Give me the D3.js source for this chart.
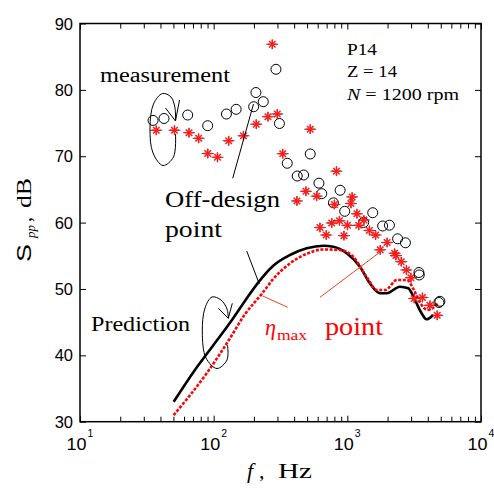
<!DOCTYPE html>
<html><head><meta charset="utf-8">
<script src="https://cdn.jsdelivr.net/npm/d3@7"></script>
<style>body{margin:0;background:#fff}svg{display:block}</style>
</head><body>
<svg id="c" width="494" height="490"></svg>
<script>
// measured data (circles) : frequency Hz, S_pp dB
const circF = [35.2,42.5,63.9,90.2,124.6,147.3,199.1,207.1,235,292.4,310.5,527.8,355.3,421.8,471,613.2,643.4,883.3,787,956.3,1324,1549,1837,2065,2377,2721,3433,3451,4927,4842];
const circS = [75.4,75.69,76.21,74.6,76.36,77.07,77.46,79.6,78.22,83.1,74.93,70.34,68.94,67.02,67.17,65.94,64.36,64.87,62.98,61.7,60.02,61.49,59.49,59.61,57.56,56.96,52.48,52.11,48.14,47.96];
// measured data (stars)
const starF = [37.2,50.9,65.4,77.2,90.3,106.8,129.5,167.1,208.3,254.7,299.1,274.4,527.8,328.7,829,490,589.4,419.8,800.8,1086,1064,1180,1331,764.4,872.9,1002,1217,623.9,695.4,943.2,1463,1628,1985,1762,2258,2309,2531,2767,2991,3165,3646,4147,4704];
const starS = [73.91,73.92,73.55,72.7,70.41,69.84,72.33,73.08,74.83,75.96,76.36,86.87,74.07,70.38,67.75,64.72,63.98,63.26,62.73,63.86,62.88,61.33,60.39,59.94,60.27,59.59,59.59,59.26,58.13,58.03,58.81,58.13,57.0,55.9,55.38,55.04,54.11,52.86,51.7,48.57,48.72,47.54,46.03];
// prediction, off-design (black solid)
const predBlackF = [50.2,72.4,100,140,171.4,216,279,372,497,661,785,989,1243,1475,1753,1967,2473,2855,3206,3596,3911,4385];
const predBlackS = [33.0,37.8,41.6,45.6,48.2,51.0,53.5,55.12,56.13,56.52,56.37,55.38,53.36,50.86,49.35,49.35,50.34,50.1,48.34,46.33,45.43,46.08];
// prediction, eta max (red dotted)
const predRedF = [50.2,88.7,130,171.4,228,279,372,497,661,880,1106,1391,1666,1922,2355,2800,3144,3529,3967,4328,4741];
const predRedS = [31.0,37.3,42.3,46.2,49.2,51.5,53.85,55.3,55.95,55.87,54.86,51.85,49.85,49.85,51.35,51.35,49.85,47.84,46.83,47.09,47.8];
const yTicks = [30,40,50,60,70,80,90];
const xDecades = [1,2,3,4];

const svg = d3.select("#c");
const L=80,R=481,T=23.5,B=421.7;
const x = d3.scaleLog().domain([10,1e4]).range([L,R]);
const y = d3.scaleLinear().domain([30,90]).range([B,T]);

// minor ticks
const minor=[];
for(let k=1;k<=3;k++) for(let m=2;m<=9;m++) minor.push(m*Math.pow(10,k));
const majors = xDecades.map(e=>Math.pow(10,e));

const g = svg.append("g");
g.append("g").attr("transform",`translate(0,${B})`)
 .call(d3.axisBottom(x).tickValues(minor).tickSize(-5).tickFormat(""))
 .call(a=>a.select(".domain").remove());
g.append("g").attr("transform",`translate(0,${T})`)
 .call(d3.axisTop(x).tickValues(minor).tickSize(-5).tickFormat(""))
 .call(a=>a.select(".domain").remove());
g.append("g").attr("transform",`translate(0,${B})`)
 .call(d3.axisBottom(x).tickValues(majors).tickSize(-6).tickFormat(""))
 .call(a=>a.select(".domain").remove());
g.append("g").attr("transform",`translate(0,${T})`)
 .call(d3.axisTop(x).tickValues(majors).tickSize(-6).tickFormat(""))
 .call(a=>a.select(".domain").remove());
g.append("g").attr("transform",`translate(${L},0)`)
 .call(d3.axisLeft(y).tickValues(yTicks).tickSize(-6).tickFormat(""))
 .call(a=>a.select(".domain").remove());
g.append("g").attr("transform",`translate(${R},0)`)
 .call(d3.axisRight(y).tickValues(yTicks).tickSize(-6).tickFormat(""))
 .call(a=>a.select(".domain").remove());
g.selectAll(".tick line").attr("stroke","#000").attr("stroke-width",1);

svg.append("rect").attr("x",L).attr("y",T).attr("width",R-L).attr("height",B-T)
 .attr("fill","none").attr("stroke","#000").attr("stroke-width",1.5);

// tick labels
const sans = "'Liberation Sans', Arial, sans-serif";
const serif = "'Liberation Serif', 'Times New Roman', serif";
svg.append("g").selectAll("text").data(yTicks).join("text")
 .attr("x",L-7).attr("y",d=>y(d)+6).attr("text-anchor","end")
 .attr("font-family",sans).attr("font-size",16.5).text(d=>d);
const xl = svg.append("g").selectAll("g").data(xDecades).join("g")
 .attr("transform",d=>`translate(${x(Math.pow(10,d))},0)`);
xl.append("text").attr("x",-13.5).attr("y",450).attr("font-family",sans).attr("font-size",16.5)
 .attr("textLength",20).attr("lengthAdjust","spacingAndGlyphs").text("10");
xl.append("text").attr("x",7.5).attr("y",437).attr("font-family",sans).attr("font-size",10.5).text(d=>d);

// curves
const line = d3.line().x(d=>x(d[0])).y(d=>y(d[1])).curve(d3.curveMonotoneX);
svg.append("path").datum(predBlackF.map((f,i)=>[f,predBlackS[i]]))
 .attr("d",line).attr("fill","none").attr("stroke","#000").attr("stroke-width",2.6);
svg.append("path").datum(predRedF.map((f,i)=>[f,predRedS[i]]))
 .attr("d",line).attr("fill","none").attr("stroke","#ff0000").attr("stroke-width",2.6)
 .attr("stroke-dasharray","3,1.6");

// circles
svg.append("g").selectAll("circle").data(circF.map((f,i)=>[f,circS[i]])).join("circle")
 .attr("cx",d=>x(d[0])).attr("cy",d=>y(d[1])).attr("r",5)
 .attr("fill","none").attr("stroke","#000").attr("stroke-width",1);

// stars
const st = svg.append("g").selectAll("g").data(starF.map((f,i)=>[f,starS[i]])).join("g")
 .attr("transform",d=>`translate(${x(d[0])},${y(d[1])})`);
st.append("line").attr("x1",-6).attr("x2",6).attr("y1",0).attr("y2",0).attr("stroke","#000").attr("stroke-width",0.7);
st.append("line").attr("x1",0).attr("x2",0).attr("y1",-5).attr("y2",5).attr("stroke","#000").attr("stroke-width",0.7);
[0,45,90,135].forEach(a=>{
  const r=4.6, c=Math.cos(a*Math.PI/180)*r, s=Math.sin(a*Math.PI/180)*r;
  st.append("line").attr("x1",-c).attr("y1",-s).attr("x2",c).attr("y2",s)
    .attr("stroke","#ff1a1a").attr("stroke-width",1.5);
});

// annotations
const curve = d3.line().curve(d3.curveCatmullRom.alpha(0.5));
function loop(pts, tip, a1, a2){
  svg.append("path").attr("d",curve(pts)).attr("fill","none").attr("stroke","#000").attr("stroke-width",1);
  svg.append("path").attr("d",`M${a1[0]},${a1[1]}L${tip[0]},${tip[1]}L${a2[0]},${a2[1]}`)
   .attr("fill","none").attr("stroke","#000").attr("stroke-width",1);
}
loop([[175.5,134],[173.5,157],[163,165.5],[153,153],[150,128],[153.5,104],[162.5,93.5],[171,97],[175,108],[175.5,121]],
     [175.5,121],[165.5,108],[179.5,100]);
loop([[227.5,345],[227,360],[217,368.5],[206,358],[202.3,332],[205,308],[212,297],[221,300],[227,309],[228.3,318.3]],
     [228.3,318.3],[218.3,308.3],[232.3,303.3]);

svg.append("line").attr("x1",232.7).attr("y1",178.3).attr("x2",253.5).attr("y2",104).attr("stroke","#000").attr("stroke-width",1);
svg.append("line").attr("x1",246.7).attr("y1",251).attr("x2",259.3).attr("y2",284).attr("stroke","#000").attr("stroke-width",1);
svg.append("line").attr("x1",262.7).attr("y1",296).attr("x2",287.7).attr("y2",307.3).attr("stroke","#e8481c").attr("stroke-width",1);
svg.append("line").attr("x1",320).attr("y1",297.3).attr("x2",380.5).attr("y2",251.7).attr("stroke","#e8481c").attr("stroke-width",1);

function txt(t,xx,yy,size,opt={}){
  const e = svg.append("text").attr("x",xx).attr("y",yy).attr("font-family",opt.family||serif)
   .attr("font-size",size).attr("fill",opt.fill||"#000").text(t);
  if(opt.italic) e.attr("font-style","italic");
  if(opt.len) e.attr("textLength",opt.len).attr("lengthAdjust","spacingAndGlyphs");
  return e;
}
txt("measurement",100,81.7,20,{len:130});
txt("P14",347,54.5,17,{len:30});
txt("Z = 14",347,77,17,{len:50});
const nt = svg.append("text").attr("x",347).attr("y",100).attr("font-family",serif).attr("font-size",17)
  .attr("textLength",112).attr("lengthAdjust","spacingAndGlyphs");
nt.append("tspan").attr("font-style","italic").text("N");
nt.append("tspan").text(" = 1200 rpm");
txt("Off-design",165,207,24,{len:115});
txt("point",165,237,24,{len:57});
txt("Prediction",91,331,20,{len:99});
txt("η",265,335,24,{italic:true,fill:"#ff0000",len:11});
txt("max",277,340,15,{fill:"#ff0000",len:30});
txt("point",325,335,26,{fill:"#ff0000",len:58});

// axis titles
const yl = svg.append("g").attr("transform","translate(31,262) rotate(-90)");
yl.append("text").attr("x",0).attr("y",0).attr("font-family",sans).attr("font-size",20).attr("textLength",18).attr("lengthAdjust","spacingAndGlyphs").text("S");
yl.append("text").attr("x",24).attr("y",4).attr("font-family",serif).attr("font-style","italic").attr("font-size",13).text("pp");
yl.append("text").attr("x",40).attr("y",0).attr("font-family",serif).attr("font-size",20).text(",");
yl.append("text").attr("x",54).attr("y",0).attr("font-family",serif).attr("font-size",20).attr("textLength",30).attr("lengthAdjust","spacingAndGlyphs").text("dB");

txt("f",247,478,22,{italic:true});
txt(",",259,478,22);
txt("Hz",278,478,21,{len:34});
</script>
</body></html>
